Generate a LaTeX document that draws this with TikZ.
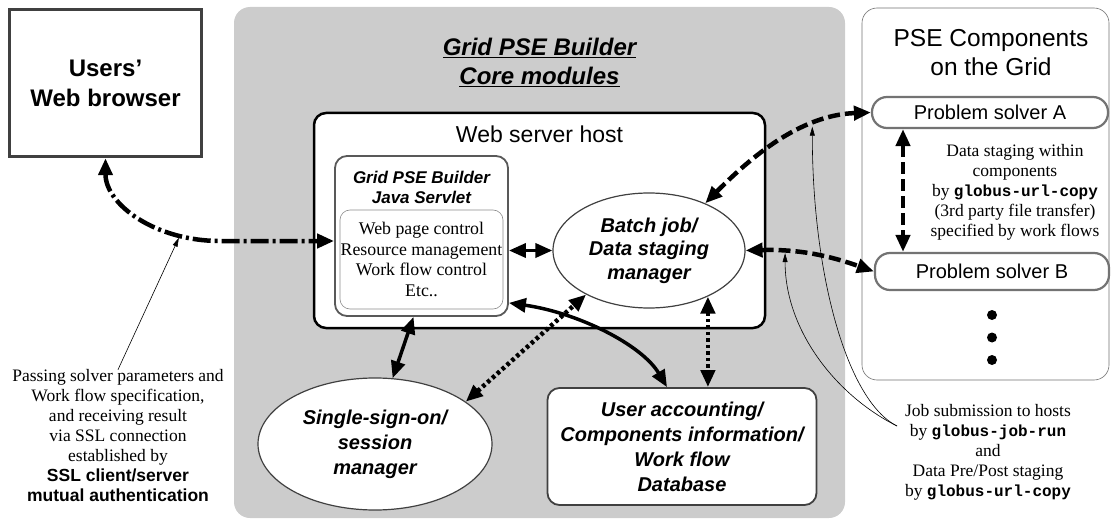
\documentclass[tikz,border=0pt]{standalone}
\usepackage{fontspec}
\setmainfont{Liberation Serif}
\setsansfont{Liberation Sans}
\setmonofont{Liberation Mono}
\usepackage{tikz}
\usetikzlibrary{arrows.meta,shapes.geometric}

\tikzset{
        coretitle/.style={font=\sffamily\bfseries\itshape\fontsize{24}{29}\selectfont, align=center},
        modfont/.style={font=\sffamily\bfseries\itshape\fontsize{20}{25}\selectfont, align=center, inner sep=0pt},
        notefont/.style={font=\fontsize{17.5}{20}\selectfont, align=center, inner sep=0pt},
        solverbox/.style={draw=black!55, line width=2.2pt, rounded corners=15pt, fill=white, font=\sffamily\fontsize{20}{24}\selectfont},
        bigtips/.style={>={Triangle[length=17pt,width=14pt]}, <->},
        solidlink/.style={line width=3.5pt, bigtips},
        dashlink/.style={line width=4.5pt, dash pattern=on 12pt off 5pt, bigtips},
        dotlink/.style={line width=4.5pt, dash pattern=on 3.5pt off 3pt, bigtips},
        dashdotlink/.style={line width=4.5pt, dash pattern=on 18pt off 4pt on 3pt off 4pt, bigtips},
        leader/.style={line width=0.6pt, >={Triangle[length=9pt,width=5pt]}, ->}
}
\newcommand{\cmd}[1]{\texttt{\bfseries\fontsize{16}{20}\selectfont #1}}

\begin{document}
\begin{tikzpicture}[x=1pt,y=-1pt]
        \useasboundingbox (0,0) rectangle (1112,524);

        %Shape: Core modules region
        \fill[black!20, rounded corners=16pt] (234,7) rectangle (845,518);
        % Text Node
        \node[coretitle] (coretitle) at (539.5,62.5) {\underline{Grid PSE Builder}\\\underline{Core modules}};

        %Shape: Browser
        \node[draw=black!75, line width=3.5pt, minimum width=192pt, minimum height=147pt, font=\sffamily\bfseries\fontsize{24}{30}\selectfont, align=center] (browser) at (105.5,83) {Users’\\Web browser};

        %Shape: Web server host
        \node[draw, line width=2.5pt, rounded corners=12pt, fill=white, minimum width=451pt, minimum height=215pt] (webhost) at (539.5,220.5) {};
        % Text Node
        \node[font=\sffamily\fontsize{23}{27}\selectfont] (hosttitle) at (539.5,134) {Web server host};

        %Shape: Servlet
        \node[draw=black!65, line width=1.8pt, rounded corners=12pt, fill=white, minimum width=173pt, minimum height=160pt] (servlet) at (421.5,236) {};
        % Text Node
        \node[font=\sffamily\bfseries\itshape\fontsize{17}{20}\selectfont, align=center] (servtitle) at (421.5,187) {Grid PSE Builder\\Java Servlet};
        %Shape: Servlet tasks
        \node[draw=black!45, line width=0.6pt, rounded corners=10pt, minimum width=163pt, minimum height=99pt, inner sep=0pt, font=\fontsize{17.8}{20.5}\selectfont, align=center] (tasks) at (421.5,259.5) {Web page control\\Resource management\\Work flow control\\Etc..};

        %Shape: Batch manager
        \node[ellipse, draw=black!75, line width=1.2pt, fill=white, minimum width=192pt, minimum height=115pt, modfont, font=\sffamily\bfseries\itshape\fontsize{20}{23.5}\selectfont] (batch) at (649,250.5) {Batch job/\\Data staging\\manager};

        %Shape: Single-sign-on
        \node[ellipse, draw=black!75, line width=1.2pt, fill=white, minimum width=234pt, minimum height=132pt, modfont] (sso) at (375,444) {Single-sign-on/\\session\\manager};

        %Shape: Database
        \node[draw=black!75, line width=1.8pt, rounded corners=12pt, fill=white, minimum width=269pt, minimum height=117pt, modfont] (db) at (682,446.5) {User accounting/\\Components information/\\Work flow\\Database};

        %Shape: PSE components
        \node[draw=black!55, line width=0.6pt, rounded corners=15pt, fill=white, minimum width=247pt, minimum height=372pt] (pse) at (985.5,194) {};
        % Text Node
        \node[font=\sffamily\fontsize{24.5}{29}\selectfont, align=center] (psetitle) at (991,52.5) {PSE Components\\on the Grid};
        \node[solverbox, minimum width=236pt, minimum height=31pt] (psa) at (990,112.5) {Problem solver A};
        \node[solverbox, minimum width=234pt, minimum height=37pt] (psb) at (992,271.5) {Problem solver B};
        \fill (992,315) circle (5pt);
        \fill (992,337.5) circle (5pt);
        \fill (992,360) circle (5pt);
        % Text Node
        \node[notefont] (stagecap) at (1015,192) {Data staging within\\components\\by \cmd{globus-url-copy}\\(3rd party file transfer)\\specified by work flows};

        % Text Node
        \node[notefont] (sslcap) at (118,436) {Passing solver parameters and\\Work flow specification,\\and receiving result\\via SSL connection\\established by\\{\sffamily\bfseries SSL client/server}\\{\sffamily\bfseries mutual authentication}};
        % Text Node
        \node[notefont] (jobcap) at (988,452.5) {Job submission to hosts\\by \cmd{globus-job-run}\\and\\Data Pre/Post staging\\by \cmd{globus-url-copy}};

        \coordinate (sslturn) at (220,241);
        \coordinate (abx) at (903,0);
        \coordinate (jobpt) at (897,426);

        %Straight Lines
        \draw[dashdotlink] (browser.south) .. controls +(0,46) and +(-65,0) .. (sslturn) coordinate[pos=0.78] (sslpt) -- (servlet.west |- sslturn);
        \draw[solidlink] (batch.west -| servlet.east) -- (batch.west);
        \draw[solidlink] ([xshift=-8pt]servlet.south) -- (sso.75);
        \draw[solidlink] ([yshift=14pt]servlet.south east) .. controls +(70,10) and +(-25,-42) .. ([xshift=-15pt]db.north);
        \draw[dotlink] (sso.25) -- (batch.215);
        \draw[dotlink] (batch.-38) -- (batch.-38 |- db.north);
        \draw[dashlink] (batch.40) .. controls (750,158) and (800,115) .. (psa.west) coordinate[pos=0.7] (apt);
        \draw[dashlink] (batch.east) .. controls (800,249) and (830,256) .. (psb.west) coordinate[pos=0.27] (bpt);
        \draw[dashlink] (abx |- psa.south) -- (abx |- psb.north);

        %Leaders
        \draw[leader, shorten >=2pt] (sslcap.north) -- (sslpt);
        \draw[leader, shorten >=2pt] (jobpt) .. controls +(-50,-25) and +(0,150) .. (apt);
        \draw[leader, shorten >=2pt] (jobpt) .. controls +(-60,-30) and +(0,80) .. (bpt);
\end{tikzpicture}
\end{document}
